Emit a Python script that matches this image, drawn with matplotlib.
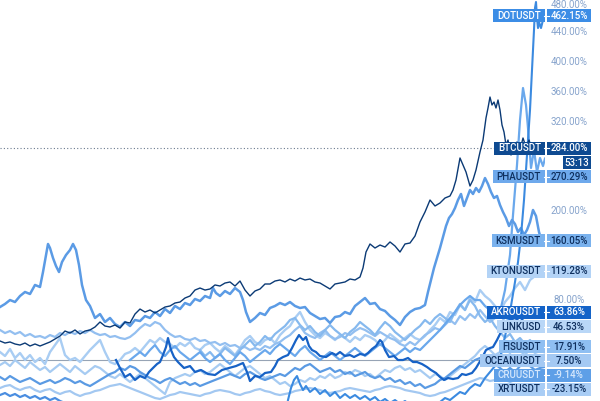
import numpy as np
import matplotlib.pyplot as plt
from matplotlib.patches import Rectangle

plt.rcParams['font.family'] = ['Roboto', 'DejaVu Sans']

# Percent change vs. chart start.
# Irregular series are (day, pct) pairs, regular ones start day + pct every 5 days.
BTC = [(0, 25.5), (5, 22.8), (10, 24.2), (15, 21.5), (20, 20.1), (25, 22.8), (30, 18.8), (35, 21.5),
       (40, 18.8), (45, 21.5), (50, 24.2), (55, 28.2), (60, 32.2), (65, 38.9), (70, 36.2), (75, 40.3),
       (80, 34.9), (85, 38.9), (90, 40.3), (95, 44.3), (100, 51.0), (105, 45.6), (110, 44.3), (115, 47.0),
       (120, 42.9), (125, 51.0), (130, 49.7), (135, 61.7), (140, 68.4), (145, 64.4), (150, 67.1),
       (155, 63.1), (160, 67.1), (165, 71.1), (170, 72.5), (175, 76.5), (180, 77.8), (185, 83.2),
       (190, 85.9), (195, 93.9), (200, 96.6), (205, 93.9), (210, 95.3), (215, 100.7), (220, 99.3),
       (225, 103.3), (230, 104.7), (235, 99.3), (240, 106.0), (245, 93.9), (250, 85.9), (255, 92.6),
       (260, 95.3), (265, 102.0), (270, 102.0), (275, 106.0), (280, 107.4), (285, 104.7), (290, 108.7),
       (295, 106.0), (300, 110.0), (305, 107.4), (310, 108.7), (315, 104.7), (320, 103.3), (325, 99.3),
       (330, 95.3), (335, 102.0), (340, 103.3), (345, 104.7), (350, 108.7), (355, 107.4), (360, 111.4),
       (363, 123.5), (366, 144.9), (370, 155.7), (375, 150.3), (380, 154.3), (385, 151.6), (390, 158.4),
       (395, 153.0), (400, 144.9), (405, 155.7), (410, 157.0), (415, 166.4), (420, 185.2), (425, 198.6),
       (430, 214.7), (435, 206.7), (440, 210.7), (445, 217.4), (450, 220.1), (453, 228.1), (456, 241.6),
       (460, 271.1), (463, 261.7), (466, 252.3), (470, 233.5), (473, 241.6), (476, 255.0), (480, 279.1),
       (483, 295.2), (486, 324.8), (488, 338.2), (490, 352.9), (492, 342.2), (494, 346.2), (496, 338.2),
       (498, 348.9), (500, 335.5), (502, 315.4), (504, 306.0), (506, 288.5), (508, 295.2), (511, 275.1),
       (514, 284.5), (517, 292.6), (520, 281.8), (523, 297.9), (526, 285.8), (529, 295.2), (532, 281.8),
       (535, 291.2), (538, 279.1), (541, 287.2), (545, 284.0)]

KSM = [(0, 71.1), (5, 75.2), (10, 80.5), (15, 77.8), (20, 85.9), (25, 91.3), (30, 88.6), (35, 100.7),
       (40, 98.0), (43, 118.1), (46, 140.9), (48, 155.7), (50, 150.3), (53, 136.9), (56, 126.1),
       (59, 118.1), (62, 131.5), (66, 140.9), (70, 147.6), (73, 155.7), (76, 147.6), (79, 127.5),
       (82, 100.7), (86, 80.5), (90, 72.5), (95, 56.4), (100, 61.7), (105, 51.0), (110, 56.4), (115, 48.3),
       (120, 44.3), (125, 51.0), (130, 45.6), (135, 53.7), (140, 52.3), (145, 59.0), (150, 56.4),
       (155, 64.4), (160, 59.0), (165, 68.4), (170, 63.1), (175, 72.5), (180, 68.4), (185, 76.5),
       (190, 73.8), (195, 81.9), (200, 79.2), (205, 85.9), (210, 83.2), (213, 96.6), (216, 89.9),
       (220, 85.9), (225, 92.6), (230, 88.6), (235, 96.6), (240, 91.3), (243, 80.5), (246, 64.4),
       (250, 51.0), (255, 56.4), (260, 63.1), (265, 60.4), (270, 69.8), (275, 72.5), (280, 76.5),
       (285, 73.8), (290, 77.8), (295, 72.5), (300, 69.8), (305, 71.1), (310, 63.1), (315, 59.0),
       (320, 55.0), (325, 56.4), (330, 49.7), (335, 57.7), (340, 59.0), (345, 64.4), (350, 61.7),
       (355, 72.5), (360, 77.8), (365, 83.2), (370, 75.2), (375, 76.5), (380, 68.4), (385, 65.8),
       (390, 59.0), (395, 53.7), (400, 47.0), (405, 57.7), (410, 64.4), (415, 68.4), (420, 69.8),
       (425, 73.8), (428, 91.3), (431, 107.4), (434, 123.5), (437, 136.9), (440, 150.3), (443, 165.1),
       (446, 179.8), (449, 190.6), (452, 195.9), (455, 204.0), (458, 214.7), (461, 222.8), (464, 206.7),
       (467, 217.4), (470, 228.1), (473, 222.8), (476, 230.8), (479, 225.5), (482, 233.5), (485, 244.2),
       (488, 236.2), (491, 225.5), (494, 217.4), (497, 220.1), (500, 208.0), (503, 198.6), (506, 190.6),
       (509, 179.8), (512, 187.9), (515, 182.5), (518, 171.8), (521, 177.1), (524, 167.8), (527, 174.5),
       (530, 185.2), (533, 201.3), (536, 193.2), (539, 171.8), (542, 158.4), (545, 160.05)]

AKRO = [(116, 0.0), (120, -10.7), (125, -22.8), (130, -18.8), (135, -26.8), (140, -21.5), (145, -24.2),
        (149, -16.1), (153, -10.7), (157, -5.4), (160, -2.7), (163, 6.7), (166, 17.4), (168, 29.5),
        (171, 13.4), (174, 4.0), (178, -2.7), (184, -10.7), (190, -8.1), (195, -16.1), (201, -13.4),
        (208, -18.8), (215, -20.1), (222, -13.4), (229, -10.7), (236, -8.1), (243, -4.0), (247, -16.1),
        (250, -28.2), (255, -21.5), (260, -22.8), (265, -17.4), (271, -16.1), (275, -8.1), (278, 0.0),
        (283, 4.0), (288, 6.7), (292, 16.1), (296, 26.8), (299, 33.5), (303, 26.8), (306, 30.9),
        (309, 18.8), (312, 13.4), (316, 10.7), (320, 5.4), (326, 4.0), (332, 9.4), (336, 6.7),
        (340, 10.7), (345, 5.4), (350, 6.7), (354, 4.0), (360, 8.1), (365, 6.7), (368, 9.4), (372, 14.8),
        (376, 18.8), (380, 26.8), (382, 24.2), (385, 13.4), (389, 4.0), (394, 5.4), (398, 0.0), (403, 0.0),
        (408, 2.7), (413, -2.7), (417, -2.7), (422, -5.4), (427, -9.4), (431, -13.4), (436, -17.4),
        (440, -22.8), (444, -26.8), (448, -24.2), (453, -25.5), (458, -24.2), (462, -18.8), (466, -20.1),
        (472, -17.4), (476, -10.7), (479, -4.0), (483, 5.4), (486, 13.4), (490, 16.1), (493, 17.4),
        (497, 26.8), (501, 37.6), (505, 45.6), (510, 53.7), (515, 56.4), (520, 51.0), (525, 59.0),
        (530, 64.4), (535, 60.4), (540, 67.1), (545, 63.86)]

DOT = [(288, -53.7), (291, -37.6), (294, -26.8), (297, -21.5), (300, -32.2), (303, -40.3), (306, -34.9),
       (310, -42.9), (315, -37.6), (320, -45.6), (325, -40.3), (330, -48.3), (335, -42.9), (340, -51.0),
       (345, -45.6), (350, -51.0), (355, -47.0), (360, -52.3), (365, -48.3), (370, -53.7), (375, -49.7),
       (380, -56.4), (385, -52.3), (390, -57.7), (395, -53.7), (400, -59.0), (405, -55.0), (410, -60.4),
       (415, -56.4), (420, -61.7), (425, -57.7), (430, -63.1), (435, -59.0), (440, -56.4), (445, -51.0),
       (450, -53.7), (455, -48.3), (460, -42.9), (465, -45.6), (470, -37.6), (475, -32.2), (480, -34.9),
       (485, -24.2), (490, -16.1), (495, -8.1), (500, 2.7), (503, 20.1), (506, 37.6), (509, 56.4),
       (512, 80.5), (515, 104.7), (518, 131.5), (521, 166.4), (524, 214.7), (526, 255.0), (528, 295.2),
       (530, 335.5), (532, 389.2), (534, 442.9), (535, 472.4), (536, 480.4), (537, 459.0), (538, 445.5),
       (539, 453.6), (541, 445.5), (543, 456.3), (545, 462.15)]

PHA_START = 130
PHA_PCT = [0.0, 5.4, 10.7, 5.4, 13.4, 20.1, 10.7, 5.4, 13.4, 18.8,
           10.7, 5.4, 0.0, 5.4, 10.7, 2.7, -2.7, 2.7, 8.1, 0.0,
           -5.4, 2.7, 10.7, 5.4, -2.7, 2.7, 8.1, 13.4, 8.1, 16.1,
           21.5, 16.1, 10.7, 5.4, 13.4, 18.8, 10.7, 5.4, 0.0, 5.4,
           10.7, 5.4, 0.0, 5.4, 10.7, 16.1, 10.7, 5.4, 10.7, 16.1,
           21.5, 16.1, 10.7, 5.4, 10.7, 16.1, 10.7, 16.1, 13.4, 20.1,
           26.8, 33.5, 40.3, 48.3, 56.4, 64.4, 73.8, 80.5, 85.9, 80.5,
           80.5, 72.5, 67.1, 56.4, 64.4]
PHA_END = [(505, 93.9), (510, 140.9), (513, 194.6), (517, 261.7), (520, 322.1), (523, 365.0),
           (526, 342.2), (528, 311.3), (531, 257.7), (534, 281.8), (537, 252.3), (540, 271.1),
           (543, 260.3), (545, 270.29)]

KTON_START = 0
KTON_PCT = [10.7, 5.4, 14.8, 2.7, 9.4, 0.0, 6.7, -2.7, 2.7, -5.4,
            10.7, 20.1, 29.5, 6.7, 0.0, 2.7, -2.7, 5.4, 13.4, 20.1,
            26.8, 10.7, -2.7, -5.4, 0.0, 8.1, 10.7, 16.1, 10.7, 18.8,
            26.8, 22.8, 29.5, 24.2, 21.5, 16.1, 22.8, 18.8, 24.2, 16.1,
            13.4, 20.1, 22.8, 16.1, 10.7, 18.8, 13.4, 6.7, 16.1, 26.8,
            32.2, 24.2, 20.1, 26.8, 29.5, 22.8, 33.5, 40.3, 45.6, 56.4,
            64.4, 51.0, 40.3, 33.5, 29.5, 36.2, 32.2, 26.8, 33.5, 29.5,
            24.2, 30.9, 26.8, 33.5, 30.9, 26.8, 20.1, 26.8, 34.9, 29.5,
            24.2, 29.5, 34.9, 29.5, 26.8, 32.2, 40.3, 47.0, 56.4, 51.0,
            64.4, 60.4, 73.8, 67.1, 83.2, 77.8, 93.9, 85.9, 80.5, 72.5,
            64.4, 77.8, 85.9, 96.6, 104.7, 93.9, 107.4, 112.7, 116.8, 119.28]

LINK_START = 0
LINK_PCT = [40.3, 36.2, 38.9, 34.9, 37.6, 32.2, 34.9, 30.9, 32.2, 29.5,
            33.5, 30.9, 36.2, 33.5, 37.6, 34.9, 38.9, 36.2, 40.3, 36.2,
            33.5, 34.9, 30.9, 32.2, 29.5, 28.2, 30.9, 36.2, 42.9, 48.3,
            45.6, 51.0, 48.3, 40.3, 34.9, 30.9, 32.2, 28.2, 26.8, 29.5,
            25.5, 26.8, 22.8, 24.2, 20.1, 22.8, 18.8, 20.1, 16.1, 17.4,
            13.4, 16.1, 13.4, 18.8, 16.1, 21.5, 24.2, 29.5, 33.5, 40.3,
            45.6, 36.2, 32.2, 29.5, 36.2, 40.3, 32.2, 28.2, 30.9, 36.2,
            33.5, 38.9, 42.9, 40.3, 36.2, 32.2, 37.6, 33.5, 29.5, 26.8,
            21.5, 18.8, 24.2, 20.1, 26.8, 33.5, 37.6, 42.9, 40.3, 47.0,
            53.7, 48.3, 59.0, 53.7, 61.7, 56.4, 67.1, 59.0, 51.0, 56.4,
            61.7, 51.0, 56.4, 45.6, 51.0, 42.9, 48.3, 40.3, 45.6, 46.53]

FIS_START = 200
FIS_PCT = [13.4, 5.4, 10.7, 2.7, 8.1, 16.1, 10.7, 5.4, 13.4, 20.1,
           26.8, 18.8, 24.2, 32.2, 26.8, 34.9, 40.3, 45.6, 53.7, 56.4,
           47.0, 40.3, 45.6, 37.6, 32.2, 40.3, 47.0, 40.3, 34.9, 29.5,
           37.6, 42.9, 51.0, 45.6, 40.3, 33.5, 42.9, 51.0, 45.6, 37.6,
           32.2, 26.8, 33.5, 40.3, 45.6, 53.7, 48.3, 56.4, 61.7, 56.4,
           51.0, 64.4, 75.2, 67.1, 80.5, 72.5, 59.0, 51.0, 56.4, 45.6,
           37.6, 29.5, 34.9, 24.2, 29.5, 21.5, 26.8, 16.1, 21.5, 17.91]

OCEAN_START = 0
OCEAN_PCT = [-6.7, -2.7, -8.1, 0.0, -5.4, -10.7, -2.7, -8.1, -13.4, -9.4,
             -16.1, -10.7, -5.4, -10.7, -16.1, -8.1, -13.4, -18.8, -13.4, -8.1,
             -10.7, -16.1, -21.5, -24.2, -18.8, -24.2, -29.5, -24.2, -18.8, -24.2,
             -29.5, -34.9, -40.3, -45.6, -29.5, -24.2, -21.5, -18.8, -21.5, -16.1,
             -13.4, -18.8, -16.1, -10.7, -5.4, -10.7, -16.1, -21.5, -16.1, -10.7,
             -8.1, -13.4, -18.8, -24.2, -21.5, -26.8, -32.2, -29.5, -34.9, -32.2,
             -26.8, -29.5, -24.2, -26.8, -21.5, -24.2, -18.8, -24.2, -21.5, -16.1,
             -18.8, -13.4, -16.1, -21.5, -18.8, -24.2, -18.8, -13.4, -16.1, -10.7,
             -8.1, -13.4, -10.7, -16.1, -13.4, -18.8, -24.2, -18.8, -21.5, -26.8,
             -21.5, -16.1, -10.7, -5.4, 0.0, 5.4, 13.4, 18.8, 13.4, 6.7,
             10.7, 2.7, 8.1, 0.0, 5.4, 10.7, 2.7, 8.1, 5.4, 7.50]

CRU_START = 0
CRU_PCT = [-22.8, -26.8, -21.5, -25.5, -29.5, -26.8, -24.2, -28.2, -32.2, -29.5,
           -26.8, -30.9, -28.2, -24.2, -26.8, -30.9, -28.2, -32.2, -34.9, -30.9,
           -26.8, -22.8, -18.8, -16.1, -10.7, -13.4, -8.1, -10.7, -16.1, -20.1,
           -24.2, -26.8, -30.9, -26.8, -24.2, -28.2, -32.2, -29.5, -33.6, -30.9,
           -34.9, -32.2, -29.5, -26.8, -24.2, -21.5, -18.8, -21.5, -24.2, -18.8,
           -16.1, -20.1, -24.2, -26.8, -24.2, -21.5, -18.8, -21.5, -16.1, -10.7,
           -13.4, -8.1, -5.4, -10.7, -16.1, -13.4, -10.7, -16.1, -13.4, -18.8,
           -16.1, -21.5, -18.8, -16.1, -21.5, -24.2, -21.5, -26.8, -24.2, -29.5,
           -26.8, -32.2, -29.5, -34.9, -32.2, -37.6, -34.9, -32.2, -26.8, -24.2,
           -18.8, -13.4, -8.1, -10.7, -5.4, 0.0, 2.7, -2.7, 0.0, -5.4,
           -10.7, -16.1, -10.7, -16.1, -8.1, -2.7, -8.1, -13.4, -10.7, -9.14]

XRT_START = 0
XRT_PCT = [-37.6, -34.9, -33.6, -37.6, -40.3, -37.6, -36.2, -40.3, -42.9, -40.3,
           -38.9, -42.9, -45.6, -42.9, -41.6, -45.6, -48.3, -45.6, -44.3, -41.6,
           -40.3, -37.6, -34.9, -33.6, -32.2, -34.9, -37.6, -40.3, -42.9, -45.6,
           -48.3, -51.0, -52.3, -49.7, -47.0, -45.6, -42.9, -44.3, -45.6, -47.0,
           -48.3, -45.6, -44.3, -41.6, -40.3, -41.6, -42.9, -45.6, -47.0, -44.3,
           -42.9, -40.3, -38.9, -41.6, -42.9, -45.6, -47.0, -45.6, -44.3, -41.6,
           -40.3, -38.9, -37.6, -38.9, -40.3, -42.9, -44.3, -42.9, -41.6, -38.9,
           -37.6, -38.9, -40.3, -41.6, -42.9, -40.3, -38.9, -36.2, -34.9, -36.2,
           -37.6, -40.3, -41.6, -42.9, -44.3, -47.0, -48.3, -47.0, -44.3, -42.9,
           -40.3, -37.6, -34.9, -32.2, -29.5, -26.8, -24.2, -25.5, -28.2, -26.8,
           -24.2, -26.8, -29.5, -26.8, -25.5, -22.8, -20.1, -22.8, -24.2, -23.15]

# bottom series, its label is cut off by the frame
LOW_START = 0
LOW_PCT = [-47.0, -44.3, -48.3, -45.6, -49.7, -47.0, -51.0, -48.3, -52.3, -49.7,
           -53.7, -51.0, -55.0, -57.7, -56.4, -60.4, -63.1, -65.8, -68.4, -71.1,
           -73.8, -76.5, -79.2, -81.8, -84.5]

BTC_PRICE_LINE = 284.0
COUNTDOWN = '53:13'
TICKS = [480, 440, 400, 360, 320, 280, 240, 200, 160, 120, 80, 40, 0, -40]

W, H = 600, 401
PLOT_W = 545


def pairs(pts):
    a = np.array(pts, dtype=float)
    return a[:, 0], a[:, 1]


def regular(start, pct):
    return start + 5 * np.arange(len(pct)), np.array(pct)


pha_x, pha_y = regular(PHA_START, PHA_PCT)
pha_x2, pha_y2 = pairs(PHA_END)

# name, (days, pct), line colour, width, box colour, label text colour
series = [
    ('KTONUSDT', regular(KTON_START, KTON_PCT), '#a9cdf3', 1.7, '#b3d3f6', '#0e2f5e'),
    ('OCEANUSDT', regular(OCEAN_START, OCEAN_PCT), '#a6cbf2', 1.6, '#a4c9f3', '#0e2f5e'),
    ('XRTUSDT', regular(XRT_START, XRT_PCT), '#a3c8f1', 1.6, '#a9cdf5', '#0e2f5e'),
    ('LINKUSD', regular(LINK_START, LINK_PCT), '#93bff0', 1.6, '#b9d7f7', '#0e2f5e'),
    ('FISUSDT', regular(FIS_START, FIS_PCT), '#86b9ee', 1.6, '#8fbff2', '#0e2f5e'),
    ('CRUUSDT', regular(CRU_START, CRU_PCT), '#5a9ae3', 1.6, '#5e9fe7', '#d5e7fc'),
    (None, regular(LOW_START, LOW_PCT), '#4a8de0', 1.6, '#5c9be4', 'white'),
    ('PHAUSDT', (np.concatenate([pha_x, pha_x2]), np.concatenate([pha_y, pha_y2])),
     '#6aa8ec', 1.6, '#6ea9ec', '#0e2f5e'),
    ('KSMUSDT', pairs(KSM), '#5b9be5', 1.8, '#7ab2ee', '#0e2f5e'),
    ('DOTUSDT', pairs(DOT), '#3b8ae0', 1.5, '#3c8de6', 'white'),
    ('AKROUSDT', pairs(AKRO), '#1762c6', 1.6, '#1463c8', 'white'),
    ('BTCUSDT', pairs(BTC), '#0b3a75', 1.0, '#0e4a91', 'white'),
]

fig = plt.figure(figsize=(W / 100, H / 100), dpi=100)
ax = fig.add_axes([0, 0, PLOT_W / W, 1])
ax.set_xlim(0, PLOT_W)
ax.set_ylim(-55.0, 483.1)
ax.axis('off')

ax.axhline(0, color='#97a4b5', lw=0.8, zorder=1)
ax.axhline(BTC_PRICE_LINE, color='#6b7a8e', lw=0.8, ls=(0, (1, 2)), zorder=1)

for name, (xs, ys), col, lw, _, _ in series:
    ax.plot(xs, ys, color=col, lw=lw, solid_joinstyle='round', zorder=2)

# overlay in pixel coordinates for the right-hand labels
ov = fig.add_axes([0, 0, 1, 1], zorder=5)
ov.set_xlim(0, W)
ov.set_ylim(H, 0)
ov.axis('off')
renderer = fig.canvas.get_renderer()


def to_px(v):
    return H - ax.transData.transform((0, v))[1]


rows = []
for name, (xs, ys), _, _, box, txt in series:
    rows.append([to_px(ys[-1]), name, ys[-1], box, txt])
    if name == 'BTCUSDT':
        rows.append([to_px(ys[-1]) + 0.01, 'COUNTDOWN', None, box, txt])
rows.sort(key=lambda r: r[0])

STEP, BOX_H = 14.2, 13
prev = -1e9
for r in rows:
    r[0] = max(r[0], prev + STEP)
    prev = r[0]

FS = 7
for y, name, val, box, txt in rows:
    top = y - BOX_H / 2
    if name == 'COUNTDOWN':
        ov.add_patch(Rectangle((563, top), 28, BOX_H, color=box, lw=0))
        ov.text(577, y, COUNTDOWN, ha='center', va='center', fontsize=FS,
                fontweight='medium', color=txt)
        continue
    ov.add_patch(Rectangle((547, top), 44, BOX_H, color=box, lw=0))
    if name is None:
        ov.add_patch(Rectangle((500, top), 45, BOX_H, color=box, lw=0))
        continue
    ov.text(569, y, f'{val:.2f}%', ha='center', va='center', fontsize=FS,
            fontweight='medium', color=txt)
    t = ov.text(541, y, name, ha='right', va='center', fontsize=FS,
                fontweight='medium', color=txt)
    w = t.get_window_extent(renderer).width
    ov.add_patch(Rectangle((541 - w - 4, top), w + 4 + 4, BOX_H, color=box, lw=0))
    ov.plot([544, 549], [y, y], color='white', lw=0.8)

label_y = [r[0] for r in rows]
for tv in TICKS:
    ty = to_px(tv)
    if ty < 0 or ty > H:
        continue
    if min(abs(ty - ly) for ly in label_y) < 11:
        continue
    ov.text(569, max(ty, 5), f'{tv:.2f}%', ha='center', va='center', fontsize=FS,
            color='#86a3cc')

fig.savefig('out.png', dpi=100)
